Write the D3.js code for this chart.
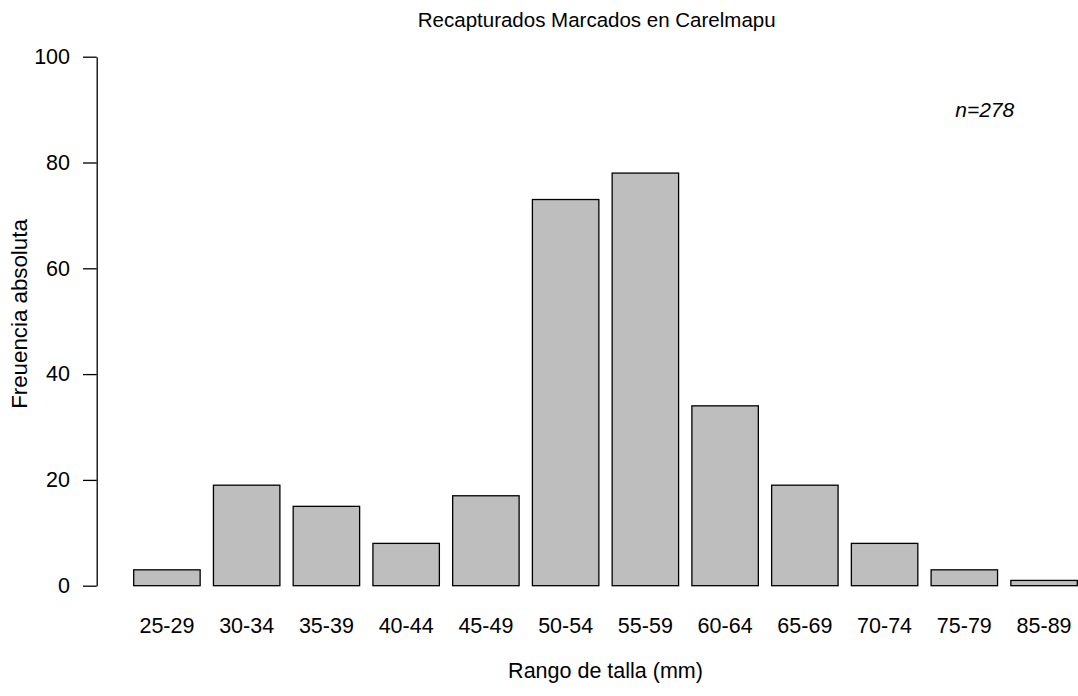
<!DOCTYPE html>
<html>
<head>
<meta charset="utf-8">
<script src="https://cdn.jsdelivr.net/npm/d3@7"></script>
<style>
  body { margin: 0; background: #fff; }
  svg { display: block; font-family: Arial, "Liberation Sans", sans-serif; }
</style>
</head>
<body>
<svg id="chart" width="1078" height="696"></svg>
<script>
// Size classes (mm) and counts
const sizeClasses = ["25-29", "30-34", "35-39", "40-44", "45-49", "50-54",
                     "55-59", "60-64", "65-69", "70-74", "75-79", "85-89"];
const counts = [3, 19, 15, 8, 17, 73, 78, 34, 19, 8, 3, 1];
const yTicks = [0, 20, 40, 60, 80, 100];

const chartTitle = "Recapturados Marcados en Carelmapu";
const xTitle = "Rango de talla (mm)";
const yTitle = "Freuencia absoluta";
const sampleNote = "n=278";

const svg = d3.select("#chart");

// plot frame (pixels)
const plotLeft = 133.7, plotRight = 1077.3;
const plotTop = 56.7, plotBottom = 585.7;
const axisX = 96.7;

const x = d3.scaleBand()
    .domain(sizeClasses)
    .range([plotLeft, plotRight])
    .paddingInner(1 / 6)
    .paddingOuter(0);

const y = d3.scaleLinear()
    .domain([0, 100])
    .range([plotBottom, plotTop]);

// bars
svg.append("g")
    .selectAll("rect")
    .data(counts)
    .join("rect")
    .attr("x", (d, i) => x(sizeClasses[i]))
    .attr("y", d => y(d))
    .attr("width", x.bandwidth())
    .attr("height", d => y(0) - y(d))
    .attr("fill", "#bebebe")
    .attr("stroke", "#000")
    .attr("stroke-width", 1.3);

// y axis
const yAxis = svg.append("g")
    .attr("transform", `translate(${axisX},0)`)
    .call(d3.axisLeft(y).tickValues(yTicks).tickSize(13.7).tickPadding(13).tickSizeOuter(0));
yAxis.select(".domain").attr("stroke", "#000").attr("stroke-width", 1.3);
yAxis.selectAll(".tick line").attr("stroke", "#000").attr("stroke-width", 1.3);
yAxis.selectAll(".tick text")
    .attr("font-size", 21.5)
    .attr("font-family", "Arial, 'Liberation Sans', sans-serif")
    .attr("fill", "#000");

// x labels (no axis line, as barplot names)
const xAxis = svg.append("g")
    .attr("transform", `translate(0,${plotBottom})`)
    .call(d3.axisBottom(x).tickSize(0).tickPadding(0));
xAxis.select(".domain").remove();
xAxis.selectAll(".tick text")
    .attr("y", 47.6)
    .attr("dy", null)
    .attr("font-size", 21.5)
    .attr("font-family", "Arial, 'Liberation Sans', sans-serif")
    .attr("fill", "#000");

// titles
svg.append("text")
    .attr("x", 596.7)
    .attr("y", 26.5)
    .attr("text-anchor", "middle")
    .attr("font-size", 20.5)
    .attr("fill", "#000")
    .text(chartTitle);

svg.append("text")
    .attr("x", (plotLeft + plotRight) / 2)
    .attr("y", 678)
    .attr("text-anchor", "middle")
    .attr("font-size", 21.5)
    .attr("fill", "#000")
    .text(xTitle);

svg.append("text")
    .attr("transform", `translate(26.5,314) rotate(-90)`)
    .attr("text-anchor", "middle")
    .attr("font-size", 22.3)
    .attr("fill", "#000")
    .text(yTitle);

// sample size note
svg.append("text")
    .attr("x", 984.7)
    .attr("y", y(90))
    .attr("dy", "0.35em")
    .attr("text-anchor", "middle")
    .attr("font-size", 21)
    .attr("font-style", "italic")
    .attr("fill", "#000")
    .text(sampleNote);
</script>
</body>
</html>
